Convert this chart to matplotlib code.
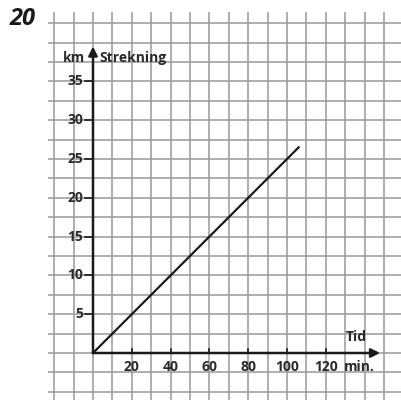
import numpy as np
import matplotlib
matplotlib.use("Agg")
import matplotlib.pyplot as plt

# data
tid = [0, 106]          # min.
strekning = [0, 26.5]   # km
x_ticks = [20, 40, 60, 80, 100, 120]
y_ticks = [5, 10, 15, 20, 25, 30, 35]

plt.rcParams['font.family'] = ['Open Sans', 'DejaVu Sans']

fig = plt.figure(figsize=(4.01, 4.0), dpi=100)
ax = fig.add_axes([0, 0, 1, 1])
# pixel mapping: origin at (93, 353), 19.4 px per grid cell (10 min / 2.5 km)
px_t = 1.94
px_km = 7.76
ax.set_xlim((0 - 93) / px_t, (401 - 93) / px_t)
ax.set_ylim((353 - 400) / px_km, 353 / px_km)
ax.axis('off')

# squared paper
gc = '#999999'
top_km = (353 - 12) / px_km
left_t = (48 - 93) / px_t
ax.vlines(np.arange(-20, 151, 10), -10, top_km, color=gc, lw=1.1, zorder=1)
ax.hlines(np.arange(-5, 43, 2.5), left_t, 170, color=gc, lw=1.1, zorder=1)

# axes with arrows
ax.annotate('', xy=(148, 0), xytext=(0, 0),
            arrowprops=dict(arrowstyle='-|>', lw=1.8, color='#1a1a1a',
                            mutation_scale=13, shrinkA=0, shrinkB=0), zorder=3)
ax.annotate('', xy=(0, 39.5), xytext=(0, 0),
            arrowprops=dict(arrowstyle='-|>', lw=1.8, color='#1a1a1a',
                            mutation_scale=13, shrinkA=0, shrinkB=0), zorder=3)

fs = 10
fw = 'bold'
tc = '#2a2a2a'
for t in x_ticks:
    ax.plot([t, t], [0, 0.5], color='#1a1a1a', lw=1.2, zorder=3)
    ax.text(t, -1.8, str(t), ha='center', va='center', fontsize=fs,
            fontweight=fw, color=tc)
for k in y_ticks:
    ax.plot([-4, 0], [k, k], color='#1a1a1a', lw=1.2, zorder=3)
    ax.text(-5.2, k, str(k), ha='right', va='center', fontsize=fs,
            fontweight=fw, color=tc)

ax.text(-9.8, 38.0, 'km', ha='center', va='center', fontsize=fs,
        fontweight=fw, color=tc)
ax.text(3.4, 38.0, 'Strekning', ha='left', va='center', fontsize=fs,
        fontweight=fw, color=tc)
ax.text(135.6, 2.1, 'Tid', ha='center', va='center', fontsize=fs,
        fontweight=fw, color=tc)
ax.text(129.2, -1.8, 'min.', ha='left', va='center', fontsize=fs,
        fontweight=fw, color=tc)

# the graph
ax.plot(tid, strekning, color='#1a1a1a', lw=1.6, zorder=4)

fig.text(23 / 401, 1 - 19 / 400, '20', ha='center', va='center', fontsize=17,
         fontweight='bold', fontstyle='italic', color='#1a1a1a')

fig.savefig('out.png', dpi=100, facecolor='white')
